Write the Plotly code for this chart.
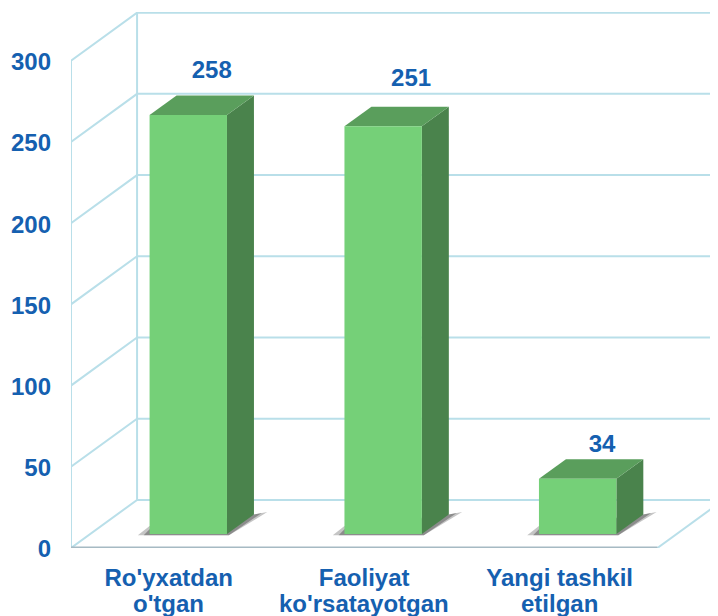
import plotly.graph_objects as go

categories_line1 = ["Ro'yxatdan", "Faoliyat", "Yangi tashkil"]
categories_line2 = ["o'tgan", "ko'rsatayotgan", "etilgan"]
values = [258, 251, 34]
y_ticks = [0, 50, 100, 150, 200, 250, 300]

# 3D projection, in axis units
WALL_DX, WALL_DY = 0.338, 29.6     # depth of the chart box
BAR_SHIFT_X = [0.10, 0.097, 0.092]   # bar front face position on the floor
BAR_SHIFT_Y = 8.6
BAR_HALF = 0.198
BAR_DX, BAR_DY = 0.138, 12.0       # depth of the bars
X_MIN, X_MAX = -0.5, 2.5
X_RIGHT = 2.81
Y_TOP = 330.0
LABEL_DX = [0.22, 0.24, 0.217]
LABEL_DY = [26.3, 28.3, 20.3]

GRID = "#b9dfe9"
BASE = "#a6bac3"
BLUE = "#1560b0"
FRONT, TOP, SIDE = "#75d078", "#5a9e5c", "#4a834c"
FS = 24

fig = go.Figure()

def line(xs, ys, color=GRID, width=2):
    fig.add_trace(go.Scatter(x=xs, y=ys, mode="lines", cliponaxis=False,
                             line=dict(color=color, width=width),
                             hoverinfo="skip", showlegend=False))

def poly(xs, ys, color):
    fig.add_trace(go.Scatter(x=xs, y=ys, mode="lines", fill="toself", fillcolor=color,
                             line=dict(width=0, color=color), cliponaxis=True,
                             hoverinfo="skip", showlegend=False))

# walls and floor
for t in y_ticks:
    line([X_MIN, X_MIN + WALL_DX, X_RIGHT], [t, t + WALL_DY, t + WALL_DY])
line([X_MIN, X_MIN], [0, 300])
line([X_MIN + WALL_DX, X_MIN + WALL_DX], [WALL_DY, 300 + WALL_DY])
line([X_MAX, X_MAX + WALL_DX], [0, WALL_DY])
line([X_MIN, X_MAX], [0, 0], color=BASE, width=3)

# bars
for i, v in enumerate(values):
    l = i + BAR_SHIFT_X[i] - BAR_HALF
    r = i + BAR_SHIFT_X[i] + BAR_HALF
    b = BAR_SHIFT_Y
    t = b + v
    # shadow on floor
    poly([l - 0.06, r + 0.01, r + BAR_DX + 0.068, r + BAR_DX, l],
         [b - 0.8, b - 0.8, b + BAR_DY + 1.5, b + BAR_DY, b + 5],
         "rgba(110,110,110,0.4)")
    poly([l - 0.03, r + 0.01, r + BAR_DX + 0.04, r + BAR_DX, l],
         [b - 0.8, b - 0.8, b + BAR_DY + 1, b + BAR_DY, b + 3],
         "rgba(70,70,70,0.45)")
    poly([r, r + BAR_DX, r + BAR_DX, r], [b, b + BAR_DY, t + BAR_DY, t], SIDE)
    poly([l, l + BAR_DX, r + BAR_DX, r], [t, t + BAR_DY, t + BAR_DY, t], TOP)
    poly([l, r, r, l], [b, b, t, t], FRONT)
    fig.add_trace(go.Scatter(x=[i + LABEL_DX[i]], y=[t + LABEL_DY[i]], mode="text", text=[str(v)],
                             textposition="middle center", cliponaxis=False,
                             textfont=dict(family="Liberation Sans", size=FS, color=BLUE),
                             texttemplate="<b>%{text}</b>", hoverinfo="skip", showlegend=False))

# second line of each category label, tighter than Plotly's <br> leading
annotations = [dict(x=i, y=0, xref="x", yref="y", text=f"<b>{c}</b>", showarrow=False,
                    yshift=-55, font=dict(family="Liberation Sans", size=FS, color=BLUE))
               for i, c in enumerate(categories_line2)]

fig.update_layout(
    width=710, height=608, autosize=False,
    margin=dict(l=63, r=0, t=4, b=68),
    paper_bgcolor="white", plot_bgcolor="white",
    showlegend=False,
    annotations=annotations,
    font=dict(family="Liberation Sans", size=FS, color=BLUE),
    xaxis=dict(range=[X_MIN, X_RIGHT], tickmode="array", tickvals=[0, 1, 2],
               ticktext=[f"<b>{c}</b>" for c in categories_line1],
               showgrid=False, zeroline=False, showline=False, ticks="",
               tickangle=0, automargin=False, ticklabelstandoff=13),
    yaxis=dict(range=[0, Y_TOP], tickmode="array", tickvals=y_ticks,
               ticktext=[f"<b>{t}</b>" for t in y_ticks],
               showgrid=False, zeroline=False, showline=False, ticks="",
               ticklabelstandoff=19, ticklabelshift=1, automargin=False),
)
fig.write_html("out.html")
